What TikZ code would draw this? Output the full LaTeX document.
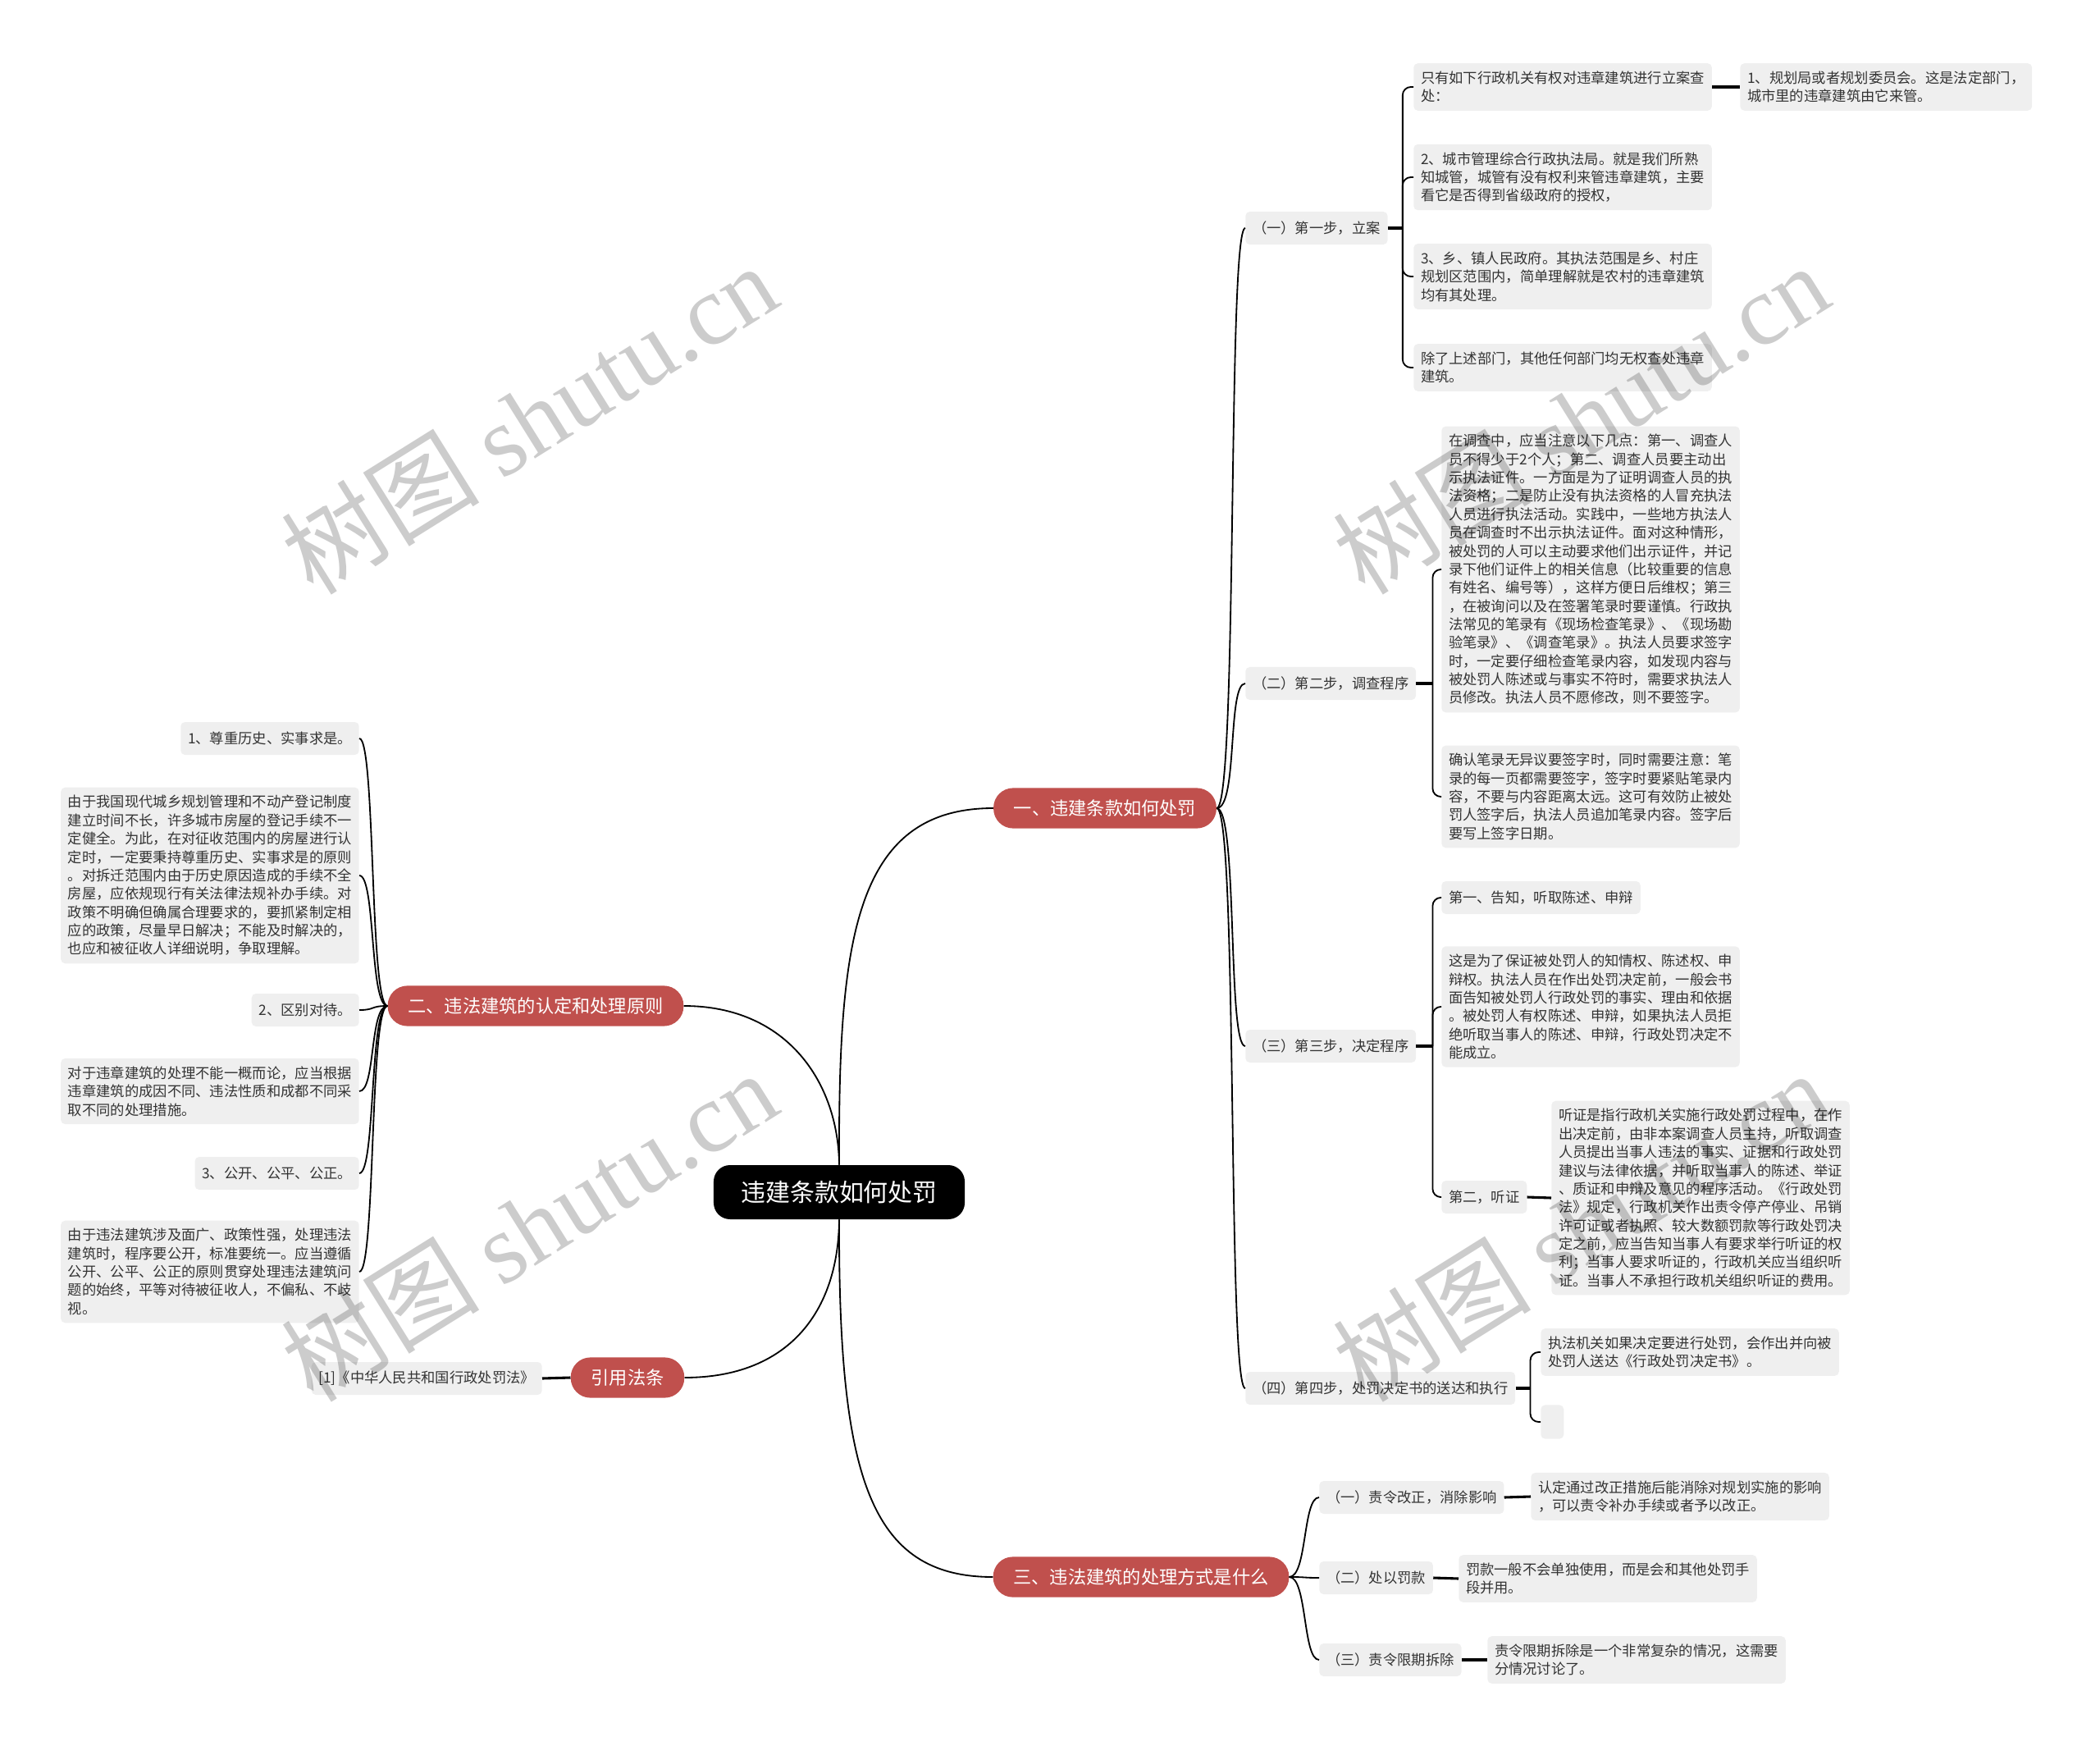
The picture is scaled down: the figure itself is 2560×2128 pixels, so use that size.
\documentclass[tikz,border=0pt]{standalone}
\usepackage{fontspec}
\setmainfont{Noto Sans CJK SC}
\newfontfamily\wmserif{Liberation Serif}
\usetikzlibrary{calc}
\definecolor{brick}{RGB}{192,80,77}
\definecolor{paper}{RGB}{239,239,239}
\definecolor{ink}{RGB}{51,51,51}
\tikzset{
  hub/.style={fill=black, text=white, rounded corners=0.5cm, minimum width=7.65cm, minimum height=1.65cm, font=\fontsize{21.3}{24}\selectfont},
  branch/.style={fill=brick, text=white, rounded corners=0.6cm, inner xsep=0.62cm, minimum height=1.23cm, font=\fontsize{15.8}{19}\selectfont},
  note/.style={fill=paper, text=ink, rounded corners=0.13cm, inner xsep=0.22cm, inner ysep=0.24cm, minimum height=1cm, align=left, font=\fontsize{12.3}{15.9}\selectfont},
  link/.style={draw=black, line width=1.3pt},
  stub/.style={draw=black, line width=2.2pt},
  wmark/.style={text=black, text opacity=0.2, rotate=32, font=\fontsize{86}{90}\selectfont}
}

\begin{document}
\begin{tikzpicture}[x=0.025cm, y=-0.025cm]
  \useasboundingbox (0,0) rectangle (2560,2128);
  % centre and main branches
  \node[hub] (main) at (1023,1453) {违建条款如何处罚};
  \node[branch] (b1) at (1347,985) {一、违建条款如何处罚};
  \node[branch] (b2) at (653,1226) {二、违法建筑的认定和处理原则};
  \node[branch] (b3) at (1391,1922) {三、违法建筑的处理方式是什么};
  \node[branch] (ref) at (765,1679) {引用法条};
  % steps
  \node[note, anchor=west] (s1) at (1518,278) {（一）第一步，立案};
  \node[note, anchor=west] (s2) at (1518,833) {（二）第二步，调查程序};
  \node[note, anchor=west] (s3) at (1518,1275) {（三）第三步，决定程序};
  \node[note, anchor=west] (s4) at (1518,1692) {（四）第四步，处罚决定书的送达和执行};
  % step 1
  \node[note, anchor=west] (s1a) at (1723,106) {只有如下行政机关有权对违章建筑进行立案查\\处：};
  \node[note, anchor=west] (s1a1) at (2121,106) {1、规划局或者规划委员会。这是法定部门，\\城市里的违章建筑由它来管。};
  \node[note, anchor=west] (s1b) at (1723,216) {2、城市管理综合行政执法局。就是我们所熟\\知城管，城管有没有权利来管违章建筑，主要\\看它是否得到省级政府的授权，};
  \node[note, anchor=west] (s1c) at (1723,337) {3、乡、镇人民政府。其执法范围是乡、村庄\\规划区范围内，简单理解就是农村的违章建筑\\均有其处理。};
  \node[note, anchor=west] (s1d) at (1723,448) {除了上述部门，其他任何部门均无权查处违章\\建筑。};
  % step 2
  \node[note, anchor=west] (s2a) at (1757,694) {在调查中，应当注意以下几点：第一、调查人\\员不得少于2个人；第二、调查人员要主动出\\示执法证件。一方面是为了证明调查人员的执\\法资格；二是防止没有执法资格的人冒充执法\\人员进行执法活动。实践中，一些地方执法人\\员在调查时不出示执法证件。面对这种情形，\\被处罚的人可以主动要求他们出示证件，并记\\录下他们证件上的相关信息（比较重要的信息\\有姓名、编号等），这样方便日后维权；第三\\，在被询问以及在签署笔录时要谨慎。行政执\\法常见的笔录有《现场检查笔录》、《现场勘\\验笔录》、《调查笔录》。执法人员要求签字\\时，一定要仔细检查笔录内容，如发现内容与\\被处罚人陈述或与事实不符时，需要求执法人\\员修改。执法人员不愿修改，则不要签字。};
  \node[note, anchor=west] (s2b) at (1757,971) {确认笔录无异议要签字时，同时需要注意：笔\\录的每一页都需要签字，签字时要紧贴笔录内\\容，不要与内容距离太远。这可有效防止被处\\罚人签字后，执法人员追加笔录内容。签字后\\要写上签字日期。};
  % step 3
  \node[note, anchor=west] (s3a) at (1757,1094) {第一、告知，听取陈述、申辩};
  \node[note, anchor=west] (s3b) at (1757,1227) {这是为了保证被处罚人的知情权、陈述权、申\\辩权。执法人员在作出处罚决定前，一般会书\\面告知被处罚人行政处罚的事实、理由和依据\\。被处罚人有权陈述、申辩，如果执法人员拒\\绝听取当事人的陈述、申辩，行政处罚决定不\\能成立。};
  \node[note, anchor=west] (s3c) at (1757,1459) {第二，听证};
  \node[note, anchor=west] (s3c1) at (1891,1460) {听证是指行政机关实施行政处罚过程中，在作\\出决定前，由非本案调查人员主持，听取调查\\人员提出当事人违法的事实、证据和行政处罚\\建议与法律依据，并听取当事人的陈述、举证\\、质证和申辩及意见的程序活动。《行政处罚\\法》规定，行政机关作出责令停产停业、吊销\\许可证或者执照、较大数额罚款等行政处罚决\\定之前，应当告知当事人有要求举行听证的权\\利；当事人要求听证的，行政机关应当组织听\\证。当事人不承担行政机关组织听证的费用。};
  % step 4
  \node[note, anchor=west] (s4a) at (1878,1648) {执法机关如果决定要进行处罚，会作出并向被\\处罚人送达《行政处罚决定书》。};
  \node[note, anchor=west, minimum width=0.7cm, minimum height=1.03cm] (s4b) at (1878,1733) {};
  % branch three
  \node[note, anchor=west] (m1) at (1608,1825) {（一）责令改正，消除影响};
  \node[note, anchor=west] (m1a) at (1866,1824) {认定通过改正措施后能消除对规划实施的影响\\，可以责令补办手续或者予以改正。};
  \node[note, anchor=west] (m2) at (1608,1923) {（二）处以罚款};
  \node[note, anchor=west] (m2a) at (1778,1924) {罚款一般不会单独使用，而是会和其他处罚手\\段并用。};
  \node[note, anchor=west] (m3) at (1608,2023) {（三）责令限期拆除};
  \node[note, anchor=west] (m3a) at (1813,2023) {责令限期拆除是一个非常复杂的情况，这需要\\分情况讨论了。};
  % branch two
  \node[note, anchor=east] (r1) at (438,900) {1、尊重历史、实事求是。};
  \node[note, anchor=east] (r2) at (438,1067) {由于我国现代城乡规划管理和不动产登记制度\\建立时间不长，许多城市房屋的登记手续不一\\定健全。为此，在对征收范围内的房屋进行认\\定时，一定要秉持尊重历史、实事求是的原则\\。对拆迁范围内由于历史原因造成的手续不全\\房屋，应依规现行有关法律法规补办手续。对\\政策不明确但确属合理要求的，要抓紧制定相\\应的政策，尽量早日解决；不能及时解决的，\\也应和被征收人详细说明，争取理解。};
  \node[note, anchor=east] (r3) at (438,1231) {2、区别对待。};
  \node[note, anchor=east] (r4) at (438,1330) {对于违章建筑的处理不能一概而论，应当根据\\违章建筑的成因不同、违法性质和成都不同采\\取不同的处理措施。};
  \node[note, anchor=east] (r5) at (438,1430) {3、公开、公平、公正。};
  \node[note, anchor=east] (r6) at (438,1550) {由于违法建筑涉及面广、政策性强，处理违法\\建筑时，程序要公开，标准要统一。应当遵循\\公开、公平、公正的原则贯穿处理违法建筑问\\题的始终，平等对待被征收人，不偏私、不歧\\视。};
  \node[note, anchor=east] (ref1) at (661,1680) {[1]《中华人民共和国行政处罚法》};

  % centre to branches
  \draw[link] (main.north) .. controls (1022,1150) and (1040,985) .. (b1.west);
  \draw[link] (main.north) .. controls (1022,1320) and (960,1226) .. (b2.east);
  \draw[link] (main.south) .. controls (1022,1600) and (960,1679) .. (ref.east);
  \draw[link] (main.south) .. controls (1022,1800) and (1060,1922) .. (b3.west);
  % branches to their children
  \foreach \c in {s1,s2,s3,s4}
    \draw[link] (b1.east) .. controls +(26,0) and +(-22,0) .. (\c.west);
  \foreach \c in {m1,m2,m3}
    \draw[link] (b3.east) .. controls +(22,0) and +(-20,0) .. (\c.west);
  \foreach \c in {r1,r2,r3,r4,r5,r6}
    \draw[link] (b2.west) .. controls +(-22,0) and +(20,0) .. (\c.east);
  \draw[stub] (ref.west) -- (ref1.east);
  % brackets to the notes
  \coordinate (j1) at ($(s1.east)+(18,0)$);
  \coordinate (j2) at ($(s2.east)+(20,0)$);
  \coordinate (j3) at ($(s3.east)+(20,0)$);
  \coordinate (j4) at ($(s4.east)+(18,0)$);
  \draw[stub] (s1.east) -- (j1);
  \draw[stub] (s2.east) -- (j2);
  \draw[stub] (s3.east) -- (j3);
  \draw[stub] (s4.east) -- (j4);
  \foreach \c in {s1a,s1b,s1c,s1d}
    \draw[link, rounded corners=0.25cm] (j1) |- (\c.west);
  \foreach \c in {s2a,s2b}
    \draw[link, rounded corners=0.25cm] (j2) |- (\c.west);
  \foreach \c in {s3a,s3b,s3c}
    \draw[link, rounded corners=0.25cm] (j3) |- (\c.west);
  \foreach \c in {s4a,s4b}
    \draw[link, rounded corners=0.25cm] (j4) |- (\c.west);
  \draw[stub] (s1a.east) -- (s1a1.west);
  \draw[stub] (s3c.east) -- (s3c1.west);
  \draw[stub] (m1.east) -- (m1a.west);
  \draw[stub] (m2.east) -- (m2a.west);
  \draw[stub] (m3.east) -- (m3a.west);

  % watermark
  \node[wmark] (wm1) at (645,510) {树图 {\wmserif shutu.cn}};
  \node[wmark] (wm2) at (645,1494) {树图 {\wmserif shutu.cn}};
  \node[wmark] (wm3) at (1927,510) {树图 {\wmserif shutu.cn}};
  \node[wmark] (wm4) at (1927,1494) {树图 {\wmserif shutu.cn}};
\end{tikzpicture}
\end{document}
